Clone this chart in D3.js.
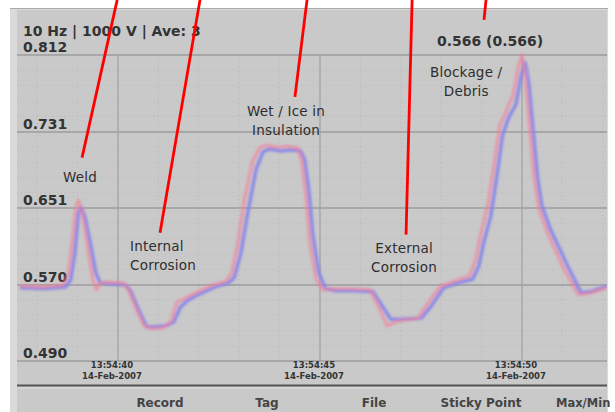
<!DOCTYPE html>
<html lang="en">
<head>
  <meta charset="UTF-8" />
  <title>Impedance trace</title>
  <style>
    body { margin: 0; padding: 0; background: #fff; }
    svg { display: block; }
    .axis-label { font-family: "DejaVu Sans", sans-serif; font-weight: bold; font-size: 14px; fill: #333; }
    .note { font-family: "DejaVu Sans", sans-serif; font-size: 13.5px; fill: #2e2e2e; letter-spacing: 0.2px; }
    .time { font-family: "DejaVu Sans", sans-serif; font-weight: bold; font-size: 8.5px; fill: #333; }
    .button { font-family: "DejaVu Sans", sans-serif; font-weight: bold; font-size: 12px; fill: #444; }
  </style>
</head>
<body>
<svg id="chart" width="615" height="412"></svg>

<script src="https://d3js.org/d3.v7.min.js"></script>
<script>
  // readings, seconds after 13:54:00
  const redTime = [37.57, 38.15, 38.64, 38.76, 38.86, 38.96, 39.02, 39.12, 39.25, 39.38, 39.47, 39.55, 39.78, 40.12, 40.25, 40.45, 40.63, 40.82, 41.11, 41.31, 41.46, 41.66, 41.98, 42.35, 42.67, 42.82, 42.96, 43.13, 43.33, 43.50, 43.66, 43.96, 44.21, 44.45, 44.55, 44.65, 44.75, 44.90, 45.07, 45.32, 45.69, 46.24, 46.44, 46.66, 46.93, 47.43, 47.67, 47.99, 48.34, 48.71, 48.86, 48.98, 49.16, 49.31, 49.45, 49.60, 49.78, 49.92, 50.00, 50.08, 50.18, 50.31, 50.42, 50.64, 51.06, 51.39, 51.63, 52.10];
  const redValue = [0.569, 0.568, 0.570, 0.580, 0.612, 0.652, 0.659, 0.645, 0.610, 0.575, 0.565, 0.572, 0.573, 0.572, 0.566, 0.545, 0.528, 0.524, 0.525, 0.531, 0.552, 0.556, 0.563, 0.570, 0.574, 0.583, 0.612, 0.660, 0.700, 0.714, 0.717, 0.715, 0.716, 0.714, 0.700, 0.665, 0.615, 0.577, 0.565, 0.566, 0.566, 0.565, 0.548, 0.527, 0.532, 0.535, 0.551, 0.569, 0.574, 0.580, 0.598, 0.624, 0.655, 0.697, 0.738, 0.752, 0.770, 0.802, 0.812, 0.790, 0.740, 0.680, 0.650, 0.624, 0.585, 0.560, 0.561, 0.567];
  const blueTime = [37.57, 38.18, 38.70, 38.83, 38.93, 39.02, 39.08, 39.18, 39.32, 39.45, 39.56, 39.81, 40.18, 40.31, 40.52, 40.71, 40.89, 41.18, 41.38, 41.55, 41.73, 42.04, 42.41, 42.73, 42.88, 43.04, 43.22, 43.42, 43.59, 43.74, 44.03, 44.28, 44.52, 44.62, 44.72, 44.82, 44.97, 45.14, 45.39, 45.76, 46.31, 46.51, 46.75, 47.00, 47.50, 47.74, 48.06, 48.41, 48.78, 48.93, 49.05, 49.23, 49.38, 49.52, 49.67, 49.85, 49.98, 50.08, 50.17, 50.27, 50.39, 50.49, 50.71, 51.13, 51.46, 51.70, 52.10];
  const blueValue = [0.567, 0.566, 0.568, 0.575, 0.603, 0.645, 0.652, 0.642, 0.613, 0.583, 0.572, 0.571, 0.570, 0.564, 0.543, 0.526, 0.526, 0.527, 0.531, 0.547, 0.554, 0.561, 0.568, 0.572, 0.578, 0.603, 0.648, 0.692, 0.710, 0.713, 0.711, 0.712, 0.711, 0.702, 0.672, 0.624, 0.583, 0.566, 0.564, 0.564, 0.563, 0.550, 0.534, 0.534, 0.535, 0.547, 0.567, 0.572, 0.576, 0.590, 0.614, 0.643, 0.685, 0.728, 0.746, 0.760, 0.790, 0.804, 0.782, 0.736, 0.682, 0.654, 0.628, 0.590, 0.562, 0.563, 0.569];

  const yTicks = [0.812, 0.731, 0.651, 0.570, 0.490];
  const xTicks = [40, 45, 50];
  const xTickTime = ["13:54:40", "13:54:45", "13:54:50"];
  const xTickDate = "14-Feb-2007";
  const title = "10 Hz | 1000 V | Ave: 3";
  const cursorLabel = "0.566 (0.566)";
  const buttons = ["Record", "Tag", "File", "Sticky Point", "Max/Min"];

  // annotation text anchored in data units (time, value)
  const notes = [
    { lines: ["Weld"], t: 39.06, v: 0.678, anchor: "middle" },
    { lines: ["Internal", "Corrosion"], t: 40.30, v: 0.606, anchor: "start" },
    { lines: ["Wet / Ice in", "Insulation"], t: 44.16, v: 0.748, anchor: "middle" },
    { lines: ["External", "Corrosion"], t: 47.08, v: 0.604, anchor: "middle" },
    { lines: ["Blockage /", "Debris"], t: 48.62, v: 0.789, anchor: "middle" }
  ];
  // red pointers: [t1, v1, t2, v2]
  const pointers = [
    [39.98, 0.870, 39.11, 0.704],
    [42.03, 0.870, 41.04, 0.625],
    [44.68, 0.870, 44.38, 0.768],
    [47.28, 0.870, 47.13, 0.623],
    [49.11, 0.870, 49.06, 0.849]
  ];

  const svg = d3.select("#chart");
  const left = 17, right = 607;

  const x = d3.scaleLinear().domain([40, 50]).range([118, 522]);
  const y = d3.scaleLinear().domain([0.490, 0.812]).range([361, 55]);

  // panel
  svg.append("rect").attr("x", 10).attr("y", 8).attr("width", 598).attr("height", 404).attr("fill", "#dadada");
  svg.append("rect").attr("x", left).attr("y", 10).attr("width", right - left).attr("height", 402).attr("fill", "#c9c9c9");
  svg.append("line").attr("x1", 10).attr("x2", 608).attr("y1", 8.5).attr("y2", 8.5).attr("stroke", "#aaa");

  const defs = svg.append("defs");
  defs.append("clipPath").attr("id", "plot")
    .append("rect").attr("x", left).attr("y", 10).attr("width", right - left).attr("height", 372);
  defs.append("filter").attr("id", "soft")
    .append("feGaussianBlur").attr("stdDeviation", 0.8);

  // minor grid
  const minorY = d3.range(0.490, 0.812, 0.0161);
  svg.append("g").selectAll("line").data(minorY).join("line")
    .attr("x1", left).attr("x2", right)
    .attr("y1", d => y(d)).attr("y2", d => y(d))
    .attr("stroke", "#b9b9b9").attr("stroke-dasharray", "1,3");
  const minorX = d3.range(38, 53, 1);
  svg.append("g").selectAll("line").data(minorX).join("line")
    .attr("x1", d => x(d)).attr("x2", d => x(d))
    .attr("y1", y(0.812)).attr("y2", y(0.490))
    .attr("stroke", "#b9b9b9").attr("stroke-dasharray", "1,3");

  // major grid
  svg.append("g").selectAll("line").data(yTicks).join("line")
    .attr("x1", left).attr("x2", right)
    .attr("y1", d => y(d)).attr("y2", d => y(d))
    .attr("stroke", "#9c9c9c").attr("stroke-width", 1.5);
  svg.append("g").selectAll("line").data(xTicks).join("line")
    .attr("x1", d => x(d)).attr("x2", d => x(d))
    .attr("y1", y(0.812)).attr("y2", y(0.490))
    .attr("stroke", "#a2a2a2").attr("stroke-width", 1.2);

  // y labels
  svg.append("g").selectAll("text").data(yTicks).join("text")
    .attr("class", "axis-label")
    .attr("x", 23).attr("y", d => y(d) - 3)
    .text(d => d3.format(".3f")(d));

  svg.append("text").attr("class", "axis-label").attr("x", 23).attr("y", 36).text(title);

  // x labels
  const xl = svg.append("g").selectAll("g").data(xTicks).join("g")
    .attr("transform", d => `translate(${x(d) - 6},0)`);
  xl.append("text").attr("class", "time").attr("text-anchor", "middle").attr("y", 368)
    .text((d, i) => xTickTime[i]);
  xl.append("text").attr("class", "time").attr("text-anchor", "middle").attr("y", 379)
    .text(xTickDate);

  svg.append("line").attr("x1", left).attr("x2", right).attr("y1", 385.5).attr("y2", 385.5)
    .attr("stroke", "#555").attr("stroke-width", 2);
  svg.append("line").attr("x1", left).attr("x2", right).attr("y1", 388).attr("y2", 388)
    .attr("stroke", "#e2e2e2").attr("stroke-width", 1);

  // traces
  const line = d3.line().x(d => x(d[0])).y(d => y(d[1]));
  const plot = svg.append("g").attr("clip-path", "url(#plot)").attr("filter", "url(#soft)");
  plot.append("path").datum(d3.zip(blueTime, blueValue))
    .attr("d", line).attr("fill", "none")
    .attr("stroke", "#8282ec").attr("stroke-width", 3.6).attr("stroke-opacity", 0.85)
    .attr("stroke-linejoin", "round");
  plot.append("path").datum(d3.zip(redTime, redValue))
    .attr("d", line).attr("fill", "none")
    .attr("stroke", "#f2809a").attr("stroke-width", 3.6).attr("stroke-opacity", 0.6)
    .attr("stroke-linejoin", "round");

  // notes
  const ng = svg.append("g").selectAll("text").data(notes).join("text")
    .attr("class", "note")
    .attr("text-anchor", d => d.anchor)
    .attr("x", d => x(d.t)).attr("y", d => y(d.v));
  ng.selectAll("tspan").data(d => d.lines.map(l => ({ l, d }))).join("tspan")
    .attr("x", e => x(e.d.t)).attr("dy", (e, i) => i ? 19 : 0)
    .text(e => e.l);

  svg.append("text").attr("class", "axis-label").attr("text-anchor", "middle")
    .attr("x", x(49.21)).attr("y", 46).text(cursorLabel);

  svg.append("g").selectAll("line").data(pointers).join("line")
    .attr("x1", d => x(d[0])).attr("y1", d => y(d[1]))
    .attr("x2", d => x(d[2])).attr("y2", d => y(d[3]))
    .attr("stroke", "#f00").attr("stroke-width", 2.8);

  // bottom button bar; the last one is left-aligned so it stays inside the window
  const bx = d3.scalePoint().domain(buttons).range([160, 588]);
  const last = buttons[buttons.length - 1];
  svg.append("g").selectAll("text").data(buttons).join("text")
    .attr("class", "button")
    .attr("text-anchor", d => d === last ? "start" : "middle")
    .attr("x", d => d === last ? bx(d) - 32 : bx(d))
    .attr("y", 407)
    .style("font-size", d => d === last ? "11.5px" : null)
    .text(d => d);
</script>
</body>
</html>
